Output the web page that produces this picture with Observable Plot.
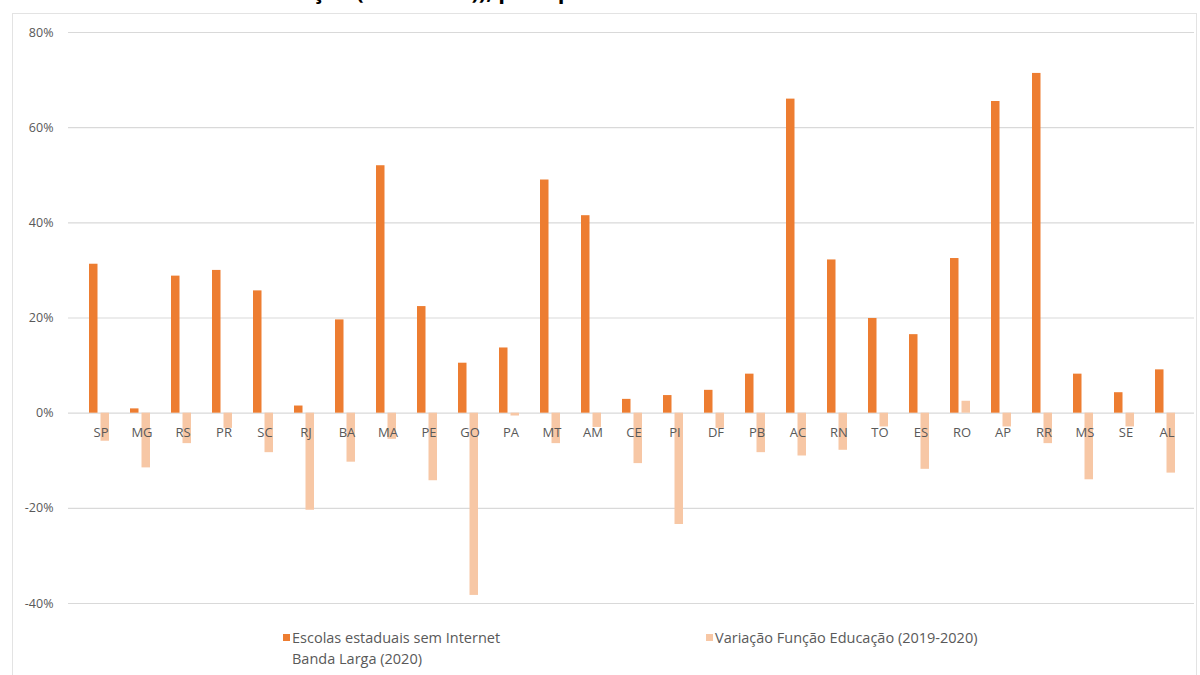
<!DOCTYPE html>
<html>
<head>
<meta charset="utf-8">
<script src="https://cdn.jsdelivr.net/npm/d3@7"></script>
<script src="https://cdn.jsdelivr.net/npm/@observablehq/plot@0.6"></script>
<style>
  html, body { margin: 0; padding: 0; background: #fff; }
  #wrap { position: relative; width: 1200px; height: 675px; overflow: hidden; font-family: "Open Sans", "Noto Sans", sans-serif; }
  #title { position: absolute; left: 0; top: 0; }
  #frame { position: absolute; left: 12px; top: 13px; width: 1185px; height: 700px; border: 1px solid #E3E3E3; box-sizing: border-box; }
  #chart { position: absolute; left: 0; top: 0; }
  .leg { position: absolute; font-family: "Open Sans", sans-serif; font-size: 14.5px; color: #595959; line-height: 21px; }
  .sw { position: absolute; width: 7px; height: 7px; }
</style>
</head>
<body>
<div id="wrap">
  <svg id="title" width="1200" height="8"><text x="247" y="-1" font-family="Open Sans, sans-serif" font-weight="bold" font-size="22" fill="#000">Educação (2019-2020)), por tipo</text></svg>
  <div id="frame"></div>
  <div id="chart"></div>
  <div class="sw" style="left:283px;top:634px;background:#ED7D31"></div>
  <div class="leg" style="left:292px;top:627px;">Escolas estaduais sem Internet<br>Banda Larga (2020)</div>
  <div class="sw" style="left:706px;top:634px;background:#F7C7A5"></div>
  <div class="leg" style="left:715px;top:627px;">Variação Função Educação (2019-2020)</div>
</div>
<script>
const states = ["SP","MG","RS","PR","SC","RJ","BA","MA","PE","GO","PA","MT","AM","CE","PI","DF","PB","AC","RN","TO","ES","RO","AP","RR","MS","SE","AL"];
const semInternet = [31.3,0.9,28.8,30.0,25.7,1.5,19.6,52.0,22.4,10.5,13.7,49.0,41.5,2.9,3.7,4.8,8.2,66.0,32.2,19.9,16.5,32.5,65.5,71.4,8.2,4.3,9.1];
const variacaoEducacao = [-5.9,-11.5,-6.4,-3.2,-8.3,-20.4,-10.3,-5.5,-14.2,-38.3,-0.6,-6.4,-3.0,-10.6,-23.4,-3.2,-8.3,-9.0,-7.8,-2.9,-11.8,2.5,-2.9,-6.4,-14.0,-2.9,-12.6];
const yTicks = [-40,-20,0,20,40,60,80];

const d1 = states.map((s, i) => ({state: s, value: semInternet[i]}));
const d2 = states.map((s, i) => ({state: s, value: variacaoEducacao[i]}));

const chart = Plot.plot({
  width: 1200,
  height: 625,
  marginLeft: 68,
  marginRight: 6,
  marginTop: 32,
  marginBottom: 22,
  style: {background: "transparent", fontFamily: "Open Sans, sans-serif"},
  x: {domain: states, padding: 0, axis: null},
  y: {domain: [-40, 80], ticks: yTicks, tickFormat: d => d + "%"},
  marks: [
    Plot.gridY(yTicks, {stroke: "#D9D9D9", strokeOpacity: 1, strokeWidth: 1.2}),
    Plot.axisY(yTicks, {tickSize: 0, tickPadding: 15, tickFormat: d => d + "%", fill: "#595959", fontSize: 12.5, label: null}),
    Plot.barY(d1, {x: "state", y: "value", fill: "#ED7D31", insetLeft: 11, insetRight: 21.5}),
    Plot.barY(d2, {x: "state", y: "value", fill: "#F7C7A5", insetLeft: 22.5, insetRight: 10}),
    Plot.text(states, {x: d => d, y: 0, dy: 20, dx: 2, text: d => d, fill: "#595959", fontSize: 13})
  ]
});
document.getElementById("chart").appendChild(chart);
</script>
</body>
</html>
